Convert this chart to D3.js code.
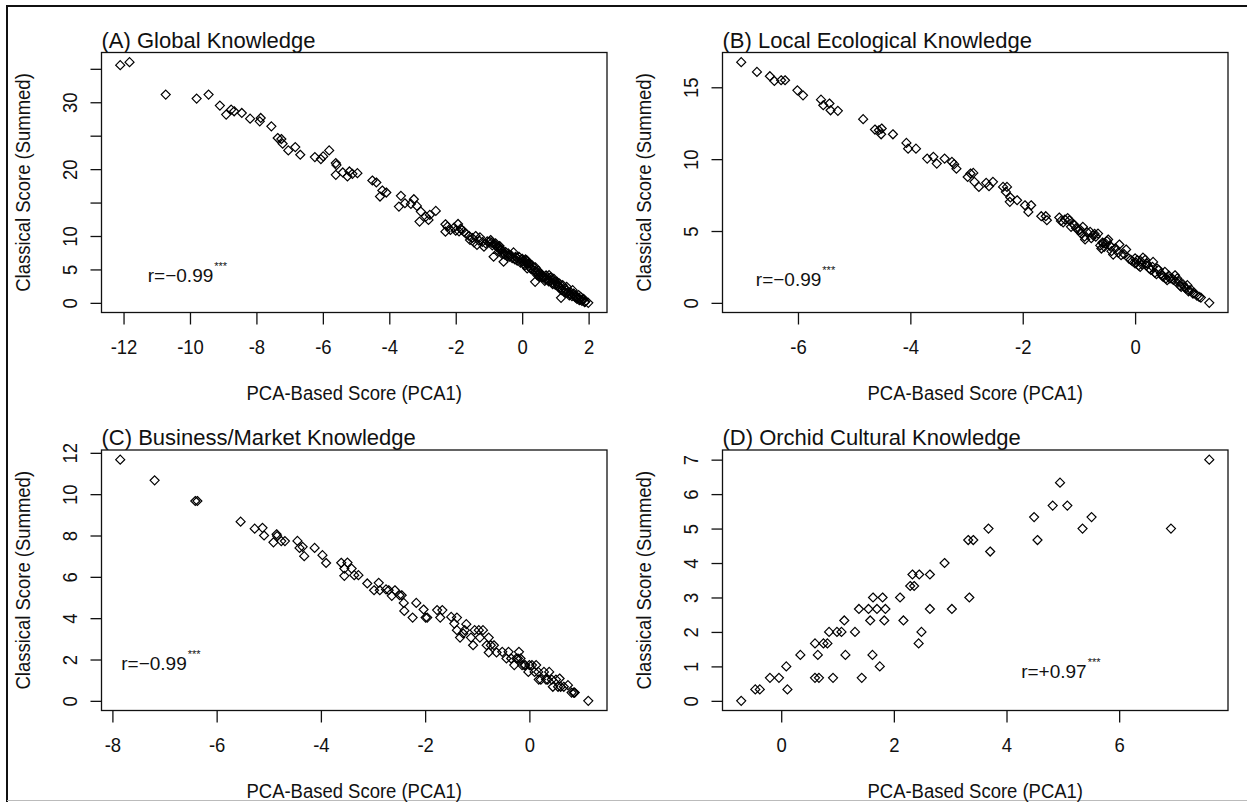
<!DOCTYPE html>
<html>
<head>
<meta charset="utf-8">
<script src="https://cdn.jsdelivr.net/npm/d3@7"></script>
<style>
  html, body { margin: 0; padding: 0; background: #fff; }
  svg { display: block; font-family: "Liberation Sans", Arial, sans-serif; }
</style>
</head>
<body>
<svg id="chart" width="1247" height="802"></svg>
<script>
// ---- data: [PCA1 score, classical summed score] per respondent ----
const panelTitles = [
  '(A) Global Knowledge',
  '(B) Local Ecological Knowledge',
  '(C) Business/Market Knowledge',
  '(D) Orchid Cultural Knowledge'
];

const globalKnowledge = [
  [-12.1, 35.55], [-11.82, 36.0], [-10.73, 31.15], [-9.8, 30.55], [-9.44, 31.15],
  [-9.1, 29.5], [-8.91, 28.15], [-8.76, 28.9], [-8.67, 28.65], [-8.44, 28.4],
  [-8.19, 27.55], [-7.87, 27.65], [-7.9, 27.15], [-7.55, 26.4], [-7.36, 24.65],
  [-7.25, 24.5], [-7.21, 23.8], [-7.04, 22.8], [-6.83, 23.3], [-6.68, 22.15],
  [-6.24, 21.8], [-6.06, 21.5], [-5.99, 21.9], [-5.81, 22.8], [-5.61, 20.9],
  [-5.59, 20.6], [-5.61, 19.15], [-5.4, 19.5], [-5.26, 18.9], [-5.2, 19.65],
  [-5.11, 19.3], [-4.96, 19.4], [-4.51, 18.3], [-4.39, 18.0], [-4.28, 15.9],
  [-4.21, 16.8], [-4.09, 16.5], [-3.71, 14.4], [-3.65, 16.0], [-3.53, 14.9],
  [-3.35, 14.8], [-3.26, 15.5], [-3.17, 14.5], [-3.05, 13.65], [-3.09, 12.15],
  [-2.9, 12.9], [-2.82, 12.4], [-2.78, 13.15], [-2.6, 13.75], [-2.31, 11.75],
  [-2.31, 10.65], [-2.25, 11.4], [-2.16, 10.9], [-2.05, 11.25], [-2.0, 10.8],
  [-1.93, 11.8], [-1.9, 10.7], [-1.85, 11.1], [-1.81, 10.9], [-1.75, 10.65],
  [-1.7, 10.4], [-1.6, 10.0], [-1.57, 9.4], [-1.5, 9.7], [-1.45, 9.05],
  [-1.4, 10.0], [-1.36, 8.65], [-1.3, 9.3], [-1.27, 9.8], [-1.2, 9.1],
  [-1.15, 8.4], [-1.1, 8.9], [-1.05, 9.2], [-0.98, 9.15], [-0.95, 9.4],
  [-0.92, 9.0], [-0.9, 8.6], [-0.86, 6.9], [-0.85, 8.8], [-0.8, 8.9],
  [-0.78, 8.6], [-0.75, 8.3], [-0.71, 8.15], [-0.7, 7.7], [-0.68, 8.5],
  [-0.65, 8.1], [-0.62, 7.9], [-0.6, 7.3], [-0.56, 7.4], [-0.56, 6.15],
  [-0.52, 7.2], [-0.5, 7.6], [-0.45, 7.0], [-0.42, 7.4], [-0.4, 7.2],
  [-0.38, 6.9], [-0.33, 7.1], [-0.3, 6.7], [-0.26, 7.55], [-0.22, 6.5],
  [-0.2, 6.9], [-0.15, 6.3], [-0.14, 6.65], [-0.1, 6.9], [-0.05, 6.0],
  [-0.02, 6.4], [0.0, 6.6], [0.02, 6.2], [0.05, 5.8], [0.08, 5.6],
  [0.1, 6.5], [0.1, 6.1], [0.12, 6.4], [0.15, 6.3], [0.15, 5.15],
  [0.18, 5.9], [0.2, 5.5], [0.21, 5.9], [0.25, 5.2], [0.28, 5.0],
  [0.3, 5.6], [0.33, 5.4], [0.35, 4.9], [0.39, 4.65], [0.39, 3.15],
  [0.4, 5.3], [0.45, 4.15], [0.45, 4.6], [0.48, 4.8], [0.5, 4.2],
  [0.52, 3.9], [0.55, 4.4], [0.58, 4.2], [0.6, 3.8], [0.63, 3.9],
  [0.65, 4.0], [0.68, 3.3], [0.7, 3.5], [0.72, 4.1], [0.75, 3.7],
  [0.78, 3.4], [0.8, 3.2], [0.81, 4.15], [0.85, 3.8], [0.87, 3.4],
  [0.9, 3.0], [0.92, 2.8], [0.95, 3.6], [0.98, 3.2], [1.0, 2.7],
  [1.05, 3.15], [1.05, 2.9], [1.08, 2.6], [1.1, 2.4], [1.12, 2.9],
  [1.15, 2.2], [1.17, 0.75], [1.18, 1.9], [1.2, 2.0], [1.22, 2.65],
  [1.25, 1.8], [1.28, 1.6], [1.3, 2.1], [1.32, 1.9], [1.34, 2.4],
  [1.35, 1.5], [1.4, 1.65], [1.42, 1.1], [1.45, 1.3], [1.48, 1.5],
  [1.5, 1.0], [1.52, 1.9], [1.55, 1.4], [1.58, 1.1], [1.6, 0.8],
  [1.62, 0.9], [1.65, 0.6], [1.68, 0.8], [1.7, 1.15], [1.72, 0.4],
  [1.75, 0.5], [1.76, 0.9], [1.8, 0.3], [1.82, 0.5], [1.85, 0.6],
  [1.88, 0.1], [1.9, 0.2], [1.99, 0.0]
];

const localEcological = [
  [-7.01, 16.75], [-6.73, 16.07], [-6.5, 15.77], [-6.42, 15.44], [-6.3, 15.49],
  [-6.23, 15.49], [-6.01, 14.79], [-5.91, 14.44], [-5.59, 14.14], [-5.55, 13.75],
  [-5.44, 13.87], [-5.42, 13.4], [-5.29, 13.36], [-4.84, 12.78], [-4.63, 12.06],
  [-4.56, 12.01], [-4.51, 12.13], [-4.52, 11.73], [-4.31, 11.73], [-4.07, 11.13],
  [-4.04, 10.73], [-3.9, 10.73], [-3.7, 10.04], [-3.59, 10.16], [-3.53, 9.69],
  [-3.39, 10.04], [-3.26, 9.81], [-3.22, 9.65], [-3.18, 9.34], [-2.98, 8.76],
  [-2.93, 9.0], [-2.88, 9.04], [-2.86, 8.42], [-2.78, 8.07], [-2.65, 8.35],
  [-2.6, 8.12], [-2.53, 8.42], [-2.35, 8.07], [-2.3, 7.72], [-2.28, 8.07],
  [-2.22, 7.33], [-2.23, 7.03], [-2.1, 7.14], [-1.96, 6.79], [-1.9, 6.33],
  [-1.85, 6.79], [-1.67, 6.03], [-1.59, 6.03], [-1.57, 5.75], [-1.35, 5.94],
  [-1.32, 5.7], [-1.28, 5.6], [-1.25, 5.8], [-1.2, 5.9], [-1.17, 5.75],
  [-1.14, 5.29], [-1.1, 5.5], [-1.08, 5.4], [-1.05, 5.2], [-1.0, 5.05],
  [-0.98, 5.1], [-0.96, 4.82], [-0.93, 5.29], [-0.9, 4.6], [-0.89, 4.41],
  [-0.85, 4.9], [-0.8, 4.94], [-0.78, 4.5], [-0.75, 4.71], [-0.72, 4.8],
  [-0.7, 4.6], [-0.66, 4.82], [-0.62, 4.0], [-0.6, 3.78], [-0.58, 4.2],
  [-0.57, 4.13], [-0.55, 3.9], [-0.52, 4.1], [-0.5, 4.3], [-0.48, 4.41],
  [-0.45, 4.0], [-0.43, 3.9], [-0.42, 3.6], [-0.39, 3.36], [-0.35, 3.8],
  [-0.3, 3.5], [-0.28, 4.06], [-0.25, 3.32], [-0.2, 3.4], [-0.16, 3.71],
  [-0.11, 3.08], [-0.08, 3.0], [-0.05, 2.9], [0.0, 2.74], [0.0, 3.1],
  [0.02, 2.8], [0.04, 2.97], [0.06, 2.6], [0.09, 2.5], [0.1, 2.9],
  [0.12, 2.7], [0.14, 3.15], [0.18, 3.0], [0.2, 2.6], [0.21, 2.74],
  [0.25, 2.4], [0.28, 2.3], [0.31, 2.5], [0.32, 2.85], [0.35, 2.1],
  [0.38, 2.0], [0.39, 2.39], [0.42, 2.3], [0.46, 2.04], [0.48, 1.9],
  [0.5, 1.8], [0.53, 2.16], [0.55, 1.7], [0.57, 1.58], [0.6, 1.9],
  [0.62, 1.7], [0.66, 1.69], [0.68, 1.6], [0.71, 1.92], [0.72, 1.5],
  [0.75, 1.7], [0.78, 1.46], [0.8, 1.2], [0.82, 1.11], [0.85, 1.3],
  [0.88, 1.1], [0.9, 1.0], [0.93, 1.23], [0.95, 0.8], [0.96, 0.88],
  [1.0, 0.9], [1.03, 0.65], [1.05, 0.7], [1.1, 0.5], [1.14, 0.42],
  [1.17, 0.37], [1.32, 0.0]
];

const businessMarket = [
  [-7.85, 11.67], [-7.19, 10.67], [-6.41, 9.67], [-6.37, 9.67], [-5.54, 8.67],
  [-5.27, 8.33], [-5.12, 8.37], [-5.09, 8.0], [-4.91, 7.67], [-4.85, 8.06],
  [-4.84, 7.97], [-4.76, 7.73], [-4.69, 7.73], [-4.45, 7.74], [-4.41, 7.4],
  [-4.35, 7.45], [-4.32, 7.0], [-4.12, 7.4], [-3.97, 7.05], [-3.9, 6.67],
  [-3.61, 6.68], [-3.55, 6.4], [-3.55, 6.05], [-3.49, 6.69], [-3.41, 6.4],
  [-3.36, 6.08], [-3.28, 6.08], [-3.11, 5.68], [-2.98, 5.35], [-2.89, 5.71],
  [-2.87, 5.35], [-2.75, 5.39], [-2.7, 5.35], [-2.64, 5.08], [-2.58, 5.35],
  [-2.49, 5.11], [-2.45, 5.11], [-2.41, 4.74], [-2.4, 4.35], [-2.24, 4.03],
  [-2.17, 4.74], [-2.03, 4.42], [-1.99, 4.03], [-1.96, 4.03], [-1.77, 4.39],
  [-1.71, 4.03], [-1.67, 4.39], [-1.5, 4.06], [-1.44, 3.74], [-1.39, 4.03],
  [-1.39, 3.42], [-1.33, 3.06], [-1.27, 3.26], [-1.21, 3.71], [-1.24, 3.42],
  [-1.12, 3.06], [-1.08, 2.69], [-1.05, 3.42], [-0.97, 3.42], [-0.95, 3.06],
  [-0.89, 3.42], [-0.82, 2.69], [-0.78, 3.06], [-0.74, 2.69], [-0.78, 2.34],
  [-0.68, 2.69], [-0.63, 2.34], [-0.52, 2.37], [-0.44, 2.05], [-0.4, 2.37],
  [-0.35, 2.05], [-0.29, 1.73], [-0.25, 2.05], [-0.22, 2.05], [-0.2, 2.37],
  [-0.17, 2.05], [-0.14, 1.73], [-0.1, 1.73], [-0.08, 1.73], [-0.02, 1.4],
  [0.0, 1.73], [0.05, 1.73], [0.1, 1.4], [0.13, 1.73], [0.17, 1.4],
  [0.18, 1.03], [0.22, 1.03], [0.28, 1.4], [0.32, 1.03], [0.35, 1.03],
  [0.38, 1.4], [0.43, 1.03], [0.45, 0.68], [0.51, 1.03], [0.55, 0.68],
  [0.58, 1.08], [0.6, 0.68], [0.66, 0.68], [0.74, 0.76], [0.81, 0.4],
  [0.85, 0.4], [0.86, 0.4], [0.87, 0.4], [1.13, 0.0]
];

const orchidCultural = [
  [-0.71, 0.0], [-0.46, 0.333], [-0.38, 0.333], [-0.2, 0.667], [-0.04, 0.667],
  [0.09, 1.0], [0.11, 0.333], [0.34, 1.333], [0.6, 0.667], [0.65, 1.333],
  [0.67, 0.667], [0.6, 1.667], [0.75, 1.667], [0.82, 1.667], [0.85, 2.0],
  [0.92, 0.667], [0.99, 2.0], [1.07, 2.0], [1.12, 2.333], [1.14, 1.333],
  [1.31, 2.0], [1.38, 2.667], [1.43, 0.667], [1.55, 2.667], [1.58, 2.333],
  [1.62, 1.333], [1.63, 3.0], [1.7, 2.667], [1.75, 1.0], [1.8, 3.0],
  [1.83, 2.333], [1.85, 2.667], [2.11, 3.0], [2.17, 2.333], [2.29, 3.333],
  [2.36, 3.333], [2.33, 3.667], [2.45, 3.667], [2.44, 1.667], [2.49, 2.0],
  [2.64, 3.667], [2.64, 2.667], [2.9, 4.0], [3.03, 2.667], [3.34, 3.0],
  [3.32, 4.667], [3.41, 4.667], [3.68, 5.0], [3.71, 4.333], [4.49, 5.333],
  [4.55, 4.667], [4.82, 5.667], [4.95, 6.333], [5.08, 5.667], [5.35, 5.0],
  [5.51, 5.333], [6.92, 5.0], [7.6, 7.0]
];

// tick positions and the labels R kept (overlapping ones dropped)
const xTicks = [
  [-12, -10, -8, -6, -4, -2, 0, 2],
  [-6, -4, -2, 0],
  [-8, -6, -4, -2, 0],
  [0, 2, 4, 6]
];
const yTicks = [
  [0, 5, 10, 15, 20, 25, 30, 35],
  [0, 5, 10, 15],
  [0, 2, 4, 6, 8, 10, 12],
  [0, 1, 2, 3, 4, 5, 6, 7]
];
const yTickLabels = [
  ['0', '5', '10', '', '20', '', '30', ''],
  ['0', '5', '10', '15'],
  ['0', '2', '4', '6', '8', '10', '12'],
  ['0', '1', '2', '3', '4', '5', '6', '7']
];

// correlation labels and where they sit (data units)
const corrLabels = ['r=\u22120.99', 'r=\u22120.99', 'r=\u22120.99', 'r=+0.97'];
const corrAnchors = [[-11.27, 3.15], [-6.75, 1.16], [-7.83, 1.49], [4.26, 0.67]];

const xAxisTitle = 'PCA-Based Score (PCA1)';
const yAxisTitle = 'Classical Score (Summed)';

// ---- layout ----
const boxes = [
  { x0: 101.5, x1: 607, y0: 52.5, y1: 312.5 },
  { x0: 722.5, x1: 1228, y0: 52.5, y1: 312.5 },
  { x0: 101.5, x1: 607, y0: 450, y1: 710.5 },
  { x0: 722.5, x1: 1228, y0: 450, y1: 710.5 }
];
const series = [globalKnowledge, localEcological, businessMarket, orchidCultural];
const squeeze = 0.88; // axis text is slightly condensed

const svg = d3.select('#chart');
svg.append('rect').attr('width', 1247).attr('height', 802).attr('fill', '#fff');

// outer frame
svg.append('line').attr('x1', 6).attr('x2', 1247).attr('y1', 6).attr('y2', 6)
  .attr('stroke', '#111').attr('stroke-width', 2);
svg.append('line').attr('x1', 7).attr('x2', 7).attr('y1', 5).attr('y2', 802)
  .attr('stroke', '#111').attr('stroke-width', 2);
svg.append('line').attr('x1', 7).attr('x2', 1247).attr('y1', 800.5).attr('y2', 800.5)
  .attr('stroke', '#bbb').attr('stroke-width', 1);

// R-style axis range: data extent widened by 4% each side
const padded = (values) => {
  const [lo, hi] = d3.extent(values);
  const d = (hi - lo) * 0.04;
  return [lo - d, hi + d];
};

const diamond = (r) => `M0,${-r}L${r},0L0,${r}L${-r},0Z`;

const drawPanel = (i) => {
  const data = series[i];
  const box = boxes[i];
  const x = d3.scaleLinear().domain(padded(data.map((d) => d[0]))).range([box.x0, box.x1]);
  const y = d3.scaleLinear().domain(padded(data.map((d) => d[1]))).range([box.y1, box.y0]);
  const g = svg.append('g').attr('class', 'panel');

  // 1. x axis
  g.append('g')
    .attr('transform', `translate(0,${box.y1})`)
    .call(d3.axisBottom(x).tickValues(xTicks[i]).tickSize(12).tickFormat((d) => String(d)))
    .call((a) => a.select('.domain').remove())
    .call((a) => a.selectAll('line').attr('stroke', '#111').attr('stroke-width', 1.3))
    .call((a) => a.selectAll('text')
      .attr('y', 0).attr('dy', 0)
      .attr('transform', `translate(0,41.5) scale(${squeeze},1)`)
      .attr('font-size', 21).attr('fill', '#111')
      .attr('font-family', '"Liberation Sans", Arial, sans-serif'));

  // 2. y axis, labels rotated like R's las=0
  g.append('g')
    .attr('transform', `translate(${box.x0},0)`)
    .call(d3.axisLeft(y).tickValues(yTicks[i]).tickSize(11)
      .tickFormat((d, k) => yTickLabels[i][k]))
    .call((a) => a.select('.domain').remove())
    .call((a) => a.selectAll('line').attr('stroke', '#111').attr('stroke-width', 1.3))
    .call((a) => a.selectAll('text')
      .attr('x', 0).attr('dy', 0)
      .attr('text-anchor', 'middle')
      .attr('transform', `translate(-25,0) rotate(-90) scale(${squeeze},1)`)
      .attr('font-size', 21).attr('fill', '#111')
      .attr('font-family', '"Liberation Sans", Arial, sans-serif'));

  // 3. plot box
  g.append('rect')
    .attr('x', box.x0).attr('y', box.y0)
    .attr('width', box.x1 - box.x0).attr('height', box.y1 - box.y0)
    .attr('fill', 'none').attr('stroke', '#111').attr('stroke-width', 1.3);

  // 4. points (pch = 5)
  g.append('g').attr('class', 'points')
    .selectAll('path')
    .data(data)
    .enter()
    .append('path')
    .attr('d', diamond(4.5))
    .attr('transform', (d) => `translate(${x(d[0])},${y(d[1])})`)
    .attr('fill', 'none')
    .attr('stroke', '#000')
    .attr('stroke-width', 1.2);

  // 5. panel title, left aligned over the box
  g.append('text')
    .attr('x', box.x0).attr('y', box.y0 - 5)
    .attr('font-size', 22).attr('fill', '#111')
    .text(panelTitles[i]);

  // 6. axis titles
  g.append('text')
    .attr('text-anchor', 'middle')
    .attr('transform', `translate(${(box.x0 + box.x1) / 2},${box.y1 + 87}) scale(${squeeze},1)`)
    .attr('font-size', 21).attr('fill', '#111')
    .text(xAxisTitle);
  g.append('text')
    .attr('text-anchor', 'middle')
    .attr('transform', `translate(${box.x0 - 71.5},${(box.y0 + box.y1) / 2}) rotate(-90) scale(${squeeze},1)`)
    .attr('font-size', 21).attr('fill', '#111')
    .text(yAxisTitle);

  // 7. correlation with significance stars
  const corr = g.append('text')
    .attr('x', x(corrAnchors[i][0])).attr('y', y(corrAnchors[i][1]))
    .attr('font-size', 19).attr('fill', '#111');
  corr.append('tspan').text(corrLabels[i]);
  corr.append('tspan').attr('dx', 1).attr('dy', -12).attr('font-size', 11).text('***');
};

d3.range(4).forEach(drawPanel);
</script>
</body>
</html>
